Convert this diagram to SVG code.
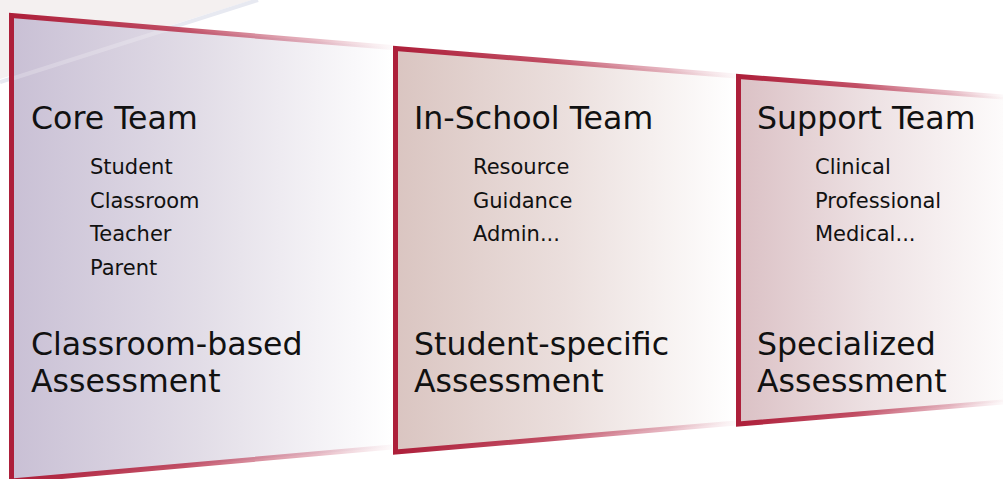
<svg xmlns="http://www.w3.org/2000/svg" width="1003" height="479" viewBox="0 0 1003 479">
  <defs>
    <linearGradient id="edge" x1="0" y1="0" x2="1" y2="0">
      <stop offset="0" stop-color="#ad1f3a" stop-opacity="1"/>
      <stop offset="0.45" stop-color="#b8324c" stop-opacity="0.85"/>
      <stop offset="0.8" stop-color="#c9627a" stop-opacity="0.45"/>
      <stop offset="1" stop-color="#d88a9c" stop-opacity="0.05"/>
    </linearGradient>
    <linearGradient id="fill1" x1="0" y1="0" x2="1" y2="0">
      <stop offset="0" stop-color="#c9c0d5"/>
      <stop offset="0.5" stop-color="#e2dde7"/>
      <stop offset="1" stop-color="#ffffff"/>
    </linearGradient>
    <linearGradient id="fill2" x1="0" y1="0" x2="1" y2="0">
      <stop offset="0" stop-color="#dac5c1"/>
      <stop offset="0.5" stop-color="#ebdfdd"/>
      <stop offset="1" stop-color="#ffffff"/>
    </linearGradient>
    <linearGradient id="fill3" x1="0" y1="0" x2="1" y2="0">
      <stop offset="0" stop-color="#dbc1c5"/>
      <stop offset="0.5" stop-color="#ede1e3"/>
      <stop offset="1" stop-color="#fdfbfb"/>
    </linearGradient>
    <style>
      .edge { fill: none; stroke: url(#edge); stroke-width: 5; stroke-linejoin: miter; }
      .title { font-family: "DejaVu Sans", Verdana, sans-serif; font-size: 31.6px; fill: #111; }
      .item { font-family: "DejaVu Sans", Verdana, sans-serif; font-size: 21px; fill: #111; }
    </style>
  </defs>

  <g id="background">
    <polygon points="0,0 252,0 0,79" fill="#f4f0f0"/>
    <line x1="0" y1="82" x2="258" y2="0" stroke="#e7e9f1" stroke-width="4"/>
  </g>

  <g id="core-team">
    <polygon points="11.5,15.5 392,47.5 392,447 11.5,481" fill="url(#fill1)"/>
    <line x1="11" y1="79" x2="168" y2="29" stroke="#ffffff" stroke-opacity="0.22" stroke-width="4"/>
    <path class="edge" d="M392,47.5 L11.5,15.5 L11.5,481 L392,447"/>
    <text class="title" x="31" y="129">Core Team</text>
    <text class="item" x="90" y="174">Student</text>
    <text class="item" x="90" y="208">Classroom</text>
    <text class="item" x="90" y="241">Teacher</text>
    <text class="item" x="90" y="275">Parent</text>
    <text class="title" x="31" y="355">Classroom-based</text>
    <text class="title" x="31" y="392">Assessment</text>
  </g>

  <g id="in-school-team">
    <polygon points="395.5,48.5 736,76 736,423 395.5,452" fill="url(#fill2)"/>
    <path class="edge" d="M736,76 L395.5,48.5 L395.5,452 L736,423"/>
    <text class="title" x="414" y="129">In-School Team</text>
    <text class="item" x="473" y="174">Resource</text>
    <text class="item" x="473" y="208">Guidance</text>
    <text class="item" x="473" y="241">Admin...</text>
    <text class="title" x="414" y="355">Student-specific</text>
    <text class="title" x="414" y="392">Assessment</text>
  </g>

  <g id="support-team">
    <polygon points="738.5,76.5 1003,97 1003,402 738.5,424" fill="url(#fill3)"/>
    <path class="edge" d="M1003,97 L738.5,76.5 L738.5,424 L1003,402"/>
    <text class="title" x="757" y="129">Support Team</text>
    <text class="item" x="815" y="174">Clinical</text>
    <text class="item" x="815" y="208">Professional</text>
    <text class="item" x="815" y="241">Medical...</text>
    <text class="title" x="757" y="355">Specialized</text>
    <text class="title" x="757" y="392">Assessment</text>
  </g>
</svg>
